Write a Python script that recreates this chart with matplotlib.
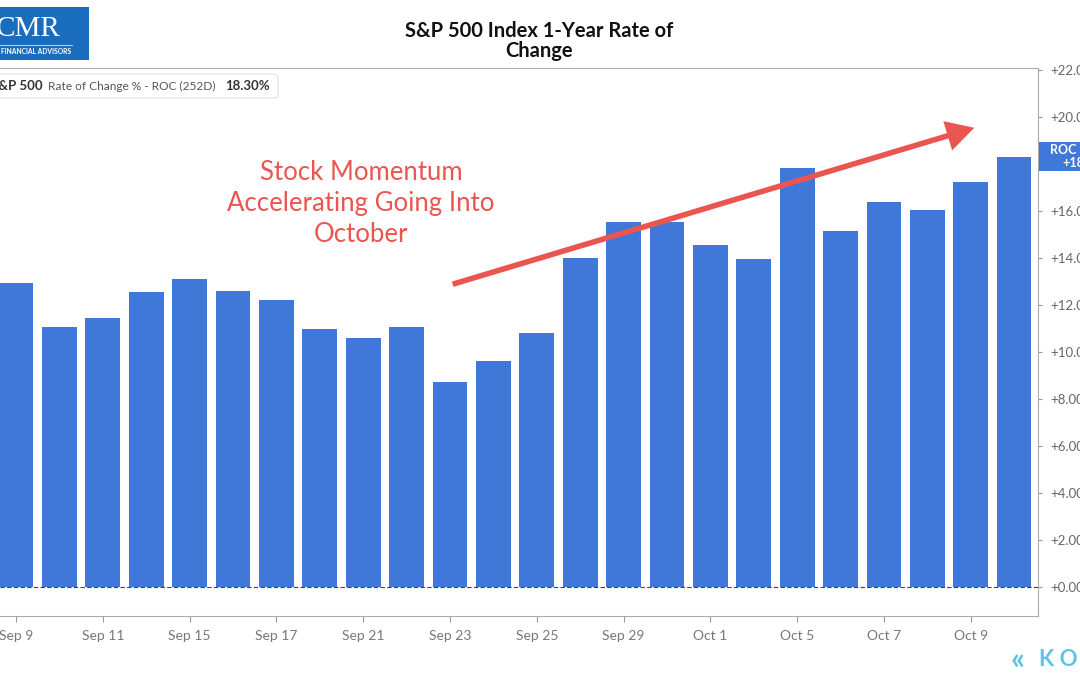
"""
S&P 500 1-year rate of change bar chart
"""

import matplotlib.pyplot as plt
from matplotlib.patches import Rectangle, FancyBboxPatch

plt.rcParams['font.family'] = ['Lato', 'DejaVu Sans']

# trading days, Sep 9 - Oct 12
dates = ['Sep 9', 'Sep 10', 'Sep 11', 'Sep 14', 'Sep 15', 'Sep 16', 'Sep 17', 'Sep 18',
         'Sep 21', 'Sep 22', 'Sep 23', 'Sep 24', 'Sep 25', 'Sep 28', 'Sep 29', 'Sep 30',
         'Oct 1', 'Oct 2', 'Oct 5', 'Oct 6', 'Oct 7', 'Oct 8', 'Oct 9', 'Oct 12']
roc = [12.94, 11.06, 11.45, 12.55, 13.10, 12.60, 12.20, 10.98,
       10.60, 11.06, 8.72, 9.62, 10.80, 14.00, 15.53, 15.53,
       14.55, 13.96, 17.83, 15.15, 16.38, 16.04, 17.23, 18.30]
yticks = [0, 2, 4, 6, 8, 10, 12, 14, 16, 18, 20, 22]
last = roc[-1]

bar_col = '#3f78d8'
red = '#eb5550'
W, H = 1080, 675

fig = plt.figure(figsize=(10.8, 6.75), dpi=100)
ax = fig.add_axes([0, (H - 616) / H, 1038 / W, (616 - 68) / H])

x = list(range(len(dates)))
ax.bar(x, roc, width=0.8, color=bar_col, zorder=2)
ax.axhline(0, color='#444444', lw=0.8, ls=(0, (4, 2)), zorder=3)

ax.set_xlim(-0.37, 23.55)
ax.set_ylim(-1.234, 22.09)

ax.set_xticks(x[::2])
ax.set_xticklabels(dates[::2], color='#777777', fontsize=10)
ax.yaxis.tick_right()
ax.set_yticks(yticks)
ax.set_yticklabels(['+%.2f%%' % v for v in yticks], color='#666666', fontsize=9.5)
ax.tick_params(axis='x', length=4, color='#999999', pad=6)
ax.tick_params(axis='y', length=3, color='#999999', pad=6)

for s in ['top', 'right', 'bottom']:
    ax.spines[s].set_color('#aaaaaa')
ax.spines['left'].set_visible(False)

# current value tag on the right axis
fig.patches.append(Rectangle((1039 / W, 1 - 171 / H), 60 / W, 29 / H,
                             transform=fig.transFigure, fc=bar_col, ec='none',
                             zorder=5))
fig.text(1050 / W, 1 - 150 / H, 'ROC %', color='white', fontsize=9,
         fontweight='bold', va='center', zorder=6)
fig.text(1062 / W, 1 - 163 / H, '+18.30%', color='white', fontsize=9,
         fontweight='bold', va='center', zorder=6)

# legend box top left
leg = FancyBboxPatch((-6 / W, 1 - 98 / H), 284 / W, 24 / H,
                     boxstyle='round,pad=0,rounding_size=0.004',
                     transform=fig.transFigure, fc='white', ec='#e2e2e2', lw=0.8)
fig.patches.append(leg)
fig.text(-9 / W, 1 - 86 / H, 'S&P 500', fontsize=9.5, fontweight='bold',
         color='#333333', va='center')
fig.text(48 / W, 1 - 86 / H, 'Rate of Change % - ROC (252D)', fontsize=8.6,
         color='#555555', va='center')
fig.text(225 / W, 1 - 86 / H, '18.30%', fontsize=9.5, fontweight='bold',
         color='#333333', va='center')

# title
fig.text(539 / W, 1 - 41 / H, 'S&P 500 Index 1-Year Rate of\nChange', ha='center',
         va='center', fontsize=14.5, fontweight='bold', color='#111111',
         linespacing=1.0)

# CMR logo
fig.patches.append(Rectangle((0, 1 - 60 / H), 89 / W, 53 / H,
                             transform=fig.transFigure, fc='#1a6cbd', ec='none'))
fig.text(-4 / W, 1 - 29 / H, 'CMR', fontsize=21, color='white',
         family='Liberation Serif', va='center')
fig.lines.append(plt.Line2D([0, 72 / W], [1 - 45 / H, 1 - 45 / H],
                            transform=fig.transFigure, color='white', lw=0.5))
fig.text(1 / W, 1 - 52 / H, 'FINANCIAL ADVISORS', fontsize=4.9, color='white',
         fontweight='bold', va='center')

# annotation
fig.text(361 / W, 1 - 204 / H, 'Stock Momentum\nAccelerating Going Into\nOctober',
         ha='center', va='center', fontsize=18.5, color=red, linespacing=1.3)
ax.annotate('', xy=(977 / W, 1 - 127 / H), xytext=(450 / W, 1 - 285 / H),
            xycoords='figure fraction', textcoords='figure fraction',
            arrowprops=dict(arrowstyle='simple,head_length=1.0,head_width=1.1,tail_width=0.2',
                            mutation_scale=20, fc=red, ec=red, lw=0))

# koyfin mark
fig.text(1011 / W, 1 - 660 / H, '«', fontsize=22, color='#5cc3e6', va='center',
         fontweight='bold')
fig.text(1039 / W, 1 - 660 / H, 'K O Y', fontsize=16, color='#5cc3e6',
         va='center', fontweight='bold')

fig.savefig('out.png', dpi=100)
